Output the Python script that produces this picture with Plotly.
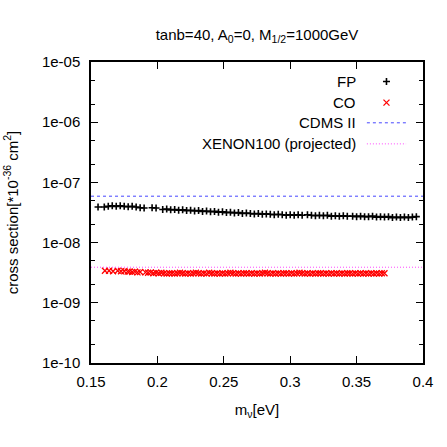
import plotly.graph_objects as go

# FP points: neutrino mass [eV] vs cross section [*1e-36 cm^2], values in units of 1e-8
fp_mnu = [0.1553, 0.160, 0.163, 0.166, 0.169, 0.172, 0.175, 0.178, 0.181, 0.184, 0.187, 0.190,
          0.196, 0.199,
          0.204, 0.207, 0.210, 0.213, 0.216, 0.219, 0.222, 0.225, 0.228, 0.231, 0.234, 0.237,
          0.240, 0.243, 0.246, 0.249, 0.252, 0.255, 0.258, 0.261, 0.264, 0.267, 0.270, 0.273,
          0.276, 0.279, 0.282, 0.285, 0.288, 0.291, 0.294, 0.297, 0.300, 0.303, 0.306, 0.309,
          0.313, 0.316, 0.319, 0.322, 0.325, 0.328, 0.331, 0.334, 0.337, 0.340, 0.343,
          0.347, 0.350, 0.353, 0.356,
          0.359, 0.362, 0.365, 0.368, 0.371, 0.374, 0.377, 0.380, 0.383, 0.386, 0.389, 0.392, 0.395]
fp_sigma_e8 = [3.9, 3.9, 4.0, 4.1, 4.0, 4.1, 4.0, 3.95, 4.0, 3.9, 3.8, 3.75,
               3.8, 3.75,
               3.55, 3.6, 3.5, 3.55, 3.45, 3.5, 3.4, 3.45, 3.35, 3.4, 3.3, 3.35,
               3.25, 3.3, 3.2, 3.25, 3.15, 3.2, 3.1, 3.15, 3.05, 3.1, 3.05, 3.0,
               3.05, 2.95, 3.0, 2.95, 2.9, 2.95, 2.9, 2.85, 2.9, 2.85, 2.9, 2.85,
               2.9, 2.85, 2.8, 2.85, 2.8, 2.85, 2.75, 2.8, 2.75, 2.8, 2.75,
               2.75, 2.7, 2.75, 2.7,
               2.7, 2.75, 2.65, 2.7, 2.65, 2.7, 2.6, 2.65, 2.6, 2.65, 2.6, 2.65, 2.7]

# CO points, values in units of 1e-9
co_mnu = [0.1605, 0.1636, 0.1666, 0.1701, 0.1726, 0.1751, 0.1776,
          0.179, 0.181, 0.183, 0.185, 0.187,
          0.191, 0.193, 0.195, 0.197, 0.199, 0.201, 0.203, 0.205, 0.207, 0.209,
          0.211, 0.213, 0.215, 0.217, 0.219, 0.221, 0.223, 0.225, 0.227, 0.229,
          0.231, 0.233, 0.235, 0.237, 0.239, 0.241, 0.243, 0.245, 0.247, 0.249,
          0.251, 0.253, 0.255, 0.257, 0.259, 0.261, 0.263, 0.265, 0.267, 0.269,
          0.271, 0.273, 0.275, 0.277, 0.279, 0.281, 0.283, 0.285, 0.287, 0.289,
          0.291, 0.293, 0.295, 0.297, 0.299, 0.301, 0.303, 0.305, 0.307, 0.309,
          0.311, 0.313, 0.315, 0.317, 0.319, 0.321, 0.323, 0.325, 0.327, 0.329,
          0.331, 0.333, 0.335, 0.337, 0.339, 0.341, 0.343, 0.345, 0.347, 0.349,
          0.351, 0.353, 0.355, 0.357, 0.359, 0.361, 0.363, 0.365, 0.367, 0.369,
          0.371]
co_sigma_e9 = [3.4, 3.4, 3.35, 3.4, 3.35, 3.35, 3.3,
               3.3, 3.25, 3.3, 3.2, 3.25,
               3.2, 3.15, 3.2, 3.1, 3.15, 3.1, 3.15, 3.1, 3.05, 3.1,
               3.1, 3.05, 3.1, 3.15, 3.1, 3.05, 3.1, 3.05, 3.1, 3.15,
               3.1, 3.05, 3.1, 3.05, 3.15, 3.1, 3.05, 3.1, 3.05, 3.1,
               3.05, 3.1, 3.15, 3.1, 3.05, 3.1, 3.05, 3.1, 3.1, 3.05,
               3.1, 3.05, 3.1, 3.05, 3.1, 3.15, 3.1, 3.05, 3.1, 3.05,
               3.1, 3.05, 3.1, 3.1, 3.05, 3.1, 3.05, 3.1, 3.15, 3.1,
               3.05, 3.1, 3.05, 3.1, 3.05, 3.1, 3.1, 3.05, 3.1, 3.05,
               3.1, 3.05, 3.1, 3.05, 3.1, 3.05, 3.1, 3.1, 3.05, 3.1,
               3.05, 3.1, 3.05, 3.1, 3.05, 3.1, 3.05, 3.1, 3.05, 3.1,
               3.1]

cdms_limit = 5.9e-8
xenon_limit = 3.9e-9

legend_names = ["FP", "CO", "CDMS II", "XENON100 (projected)"]

x_tickvals = [0.15, 0.2, 0.25, 0.3, 0.35, 0.4]
x_ticktext = ["0.15", "0.2", "0.25", "0.3", "0.35", "0.4"]
y_tickvals = [1e-10, 1e-9, 1e-8, 1e-7, 1e-6, 1e-5]
y_ticktext = ["1e-10", "1e-09", "1e-08", "1e-07", "1e-06", "1e-05"]
y_minorvals = [2e-10, 5e-10, 2e-9, 5e-9, 2e-8, 5e-8, 2e-7, 5e-7, 2e-6, 5e-6]

FONT = "Liberation Sans, Arial, sans-serif"
FS = 15
CDMS_COLOR = "rgb(70,70,255)"
XENON_COLOR = "rgb(255,70,255)"

assert len(fp_mnu) == len(fp_sigma_e8)
assert len(co_mnu) == len(co_sigma_e9)

fp_sigma = [v * 1e-8 for v in fp_sigma_e8]
co_sigma = [v * 1e-9 for v in co_sigma_e9]

fp_marker = dict(symbol="cross-thin", size=5, line=dict(color="black", width=1.6))
co_marker = dict(symbol="x-thin", size=6, line=dict(color="red", width=1.3))

fig = go.Figure()
fig.add_trace(go.Scatter(x=fp_mnu, y=fp_sigma, mode="markers", name="FP", marker=fp_marker))
fig.add_trace(go.Scatter(x=co_mnu, y=co_sigma, mode="markers", name="CO", marker=co_marker))

fig.add_hline(y=cdms_limit, line=dict(color=CDMS_COLOR, width=1, dash="3px,3px"))
fig.add_hline(y=xenon_limit, line=dict(color=XENON_COLOR, width=1, dash="1px,2px"))

# hand-made gnuplot-style key (text right-aligned, sample to its right)
key_y = [0.935, 0.865, 0.798, 0.728]
key_text_x = 0.804
key_sample_x = [0.831, 0.949]
for name, ky in zip(legend_names, key_y):
    fig.add_annotation(text=name, x=key_text_x, y=ky, xref="paper", yref="paper",
                       xanchor="right", yanchor="middle", showarrow=False,
                       font=dict(family=FONT, size=FS, color="black"))
mid = (key_sample_x[0] + key_sample_x[1]) / 2
fig.add_trace(go.Scatter(x=[mid], y=[key_y[0]], xaxis="x2", yaxis="y2", mode="markers", marker=fp_marker))
fig.add_trace(go.Scatter(x=[mid], y=[key_y[1]], xaxis="x2", yaxis="y2", mode="markers", marker=co_marker))
fig.add_trace(go.Scatter(x=key_sample_x, y=[key_y[2]] * 2, xaxis="x2", yaxis="y2", mode="lines",
                         line=dict(color=CDMS_COLOR, width=1, dash="3px,3px")))
fig.add_trace(go.Scatter(x=key_sample_x, y=[key_y[3]] * 2, xaxis="x2", yaxis="y2", mode="lines",
                         line=dict(color=XENON_COLOR, width=1, dash="1px,2px")))

fig.update_layout(
    width=447, height=447,
    margin=dict(l=91, r=24, t=62, b=84),
    paper_bgcolor="white", plot_bgcolor="white",
    showlegend=False,
    font=dict(family=FONT, size=FS, color="black"),
    title=dict(text="tanb=40, A<sub>0</sub>=0, M<sub>1/2</sub>=1000GeV", x=0.575, xanchor="center",
               y=0.922, yanchor="middle", font=dict(family=FONT, size=FS, color="black")),
    xaxis=dict(range=[0.15, 0.4], tickvals=x_tickvals, ticktext=x_ticktext,
               ticks="inside", ticklen=7, tickwidth=1, tickcolor="black",
               showline=True, linecolor="black", linewidth=1.5, mirror="ticks",
               showgrid=False, zeroline=False, ticklabelstandoff=4,
               title=dict(text="m<sub>ν</sub>[eV]", standoff=16, font=dict(family=FONT, size=FS))),
    yaxis=dict(type="log", range=[-10, -5], tickvals=y_tickvals, ticktext=y_ticktext,
               ticks="inside", ticklen=7, tickwidth=1, tickcolor="black",
               minor=dict(tickvals=y_minorvals, ticks="inside", ticklen=4, tickcolor="black"),
               showline=True, linecolor="black", linewidth=1.5, mirror="ticks",
               showgrid=False, zeroline=False, ticklabelstandoff=6,
               title=dict(text="cross section[*10<sup>-36</sup> cm<sup>2</sup>]", standoff=20,
                          font=dict(family=FONT, size=FS))),
    xaxis2=dict(overlaying="x", range=[0, 1], visible=False),
    yaxis2=dict(overlaying="y", range=[0, 1], visible=False),
)

fig.write_html("out.html", config={"displayModeBar": False},
               post_script="document.body.style.margin='0';")
